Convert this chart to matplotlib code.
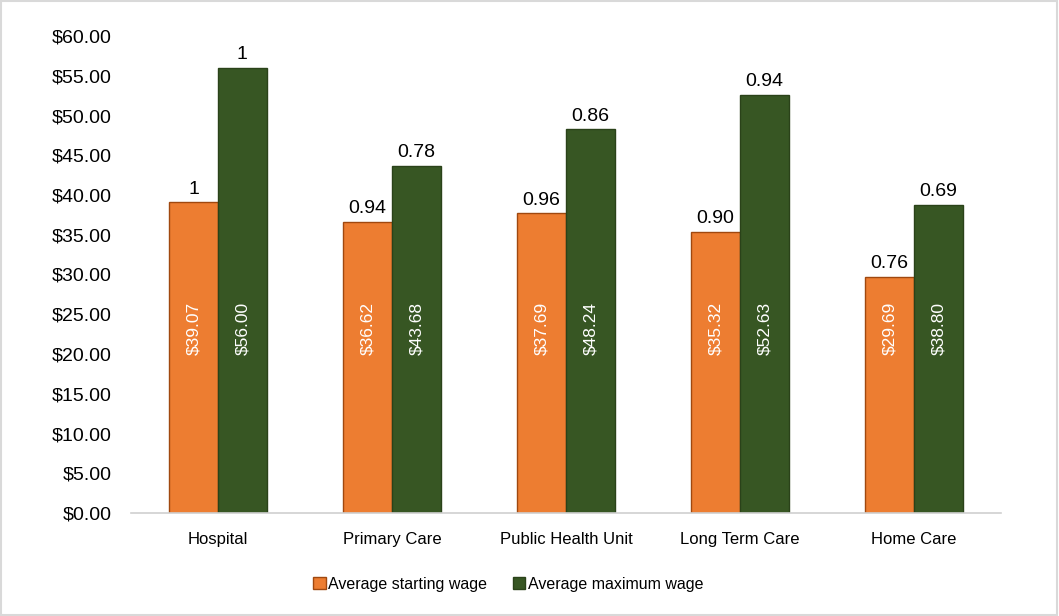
import matplotlib.pyplot as plt
import numpy as np

plt.rcParams["font.family"] = ["Liberation Sans", "DejaVu Sans"]

categories = ["Hospital", "Primary Care", "Public Health Unit", "Long Term Care", "Home Care"]
starting_wage = [39.07, 36.62, 37.69, 35.32, 29.69]
maximum_wage = [56.00, 43.68, 48.24, 52.63, 38.80]
starting_ratio = ["1", "0.94", "0.96", "0.90", "0.76"]
maximum_ratio = ["1", "0.78", "0.86", "0.94", "0.69"]
y_ticks = np.arange(0, 61, 5)

ORANGE = "#ED7D31"
GREEN = "#375623"
INNER_LABEL_Y = 23.2  # wage labels sit at a common height inside the bars

fig = plt.figure(figsize=(10.59, 6.16), dpi=100)
ax = fig.add_axes([131 / 1059, 1 - 513 / 616, (1001 - 131) / 1059, (513 - 36) / 616])

x = np.arange(len(categories))
w = 0.28
b1 = ax.bar(x - w / 2, starting_wage, w, color=ORANGE, edgecolor="#A0480F", linewidth=1)
b2 = ax.bar(x + w / 2, maximum_wage, w, color=GREEN, edgecolor="#2A4219", linewidth=1)

for bars, vals, ratios in ((b1, starting_wage, starting_ratio), (b2, maximum_wage, maximum_ratio)):
    for bar, v, r in zip(bars, vals, ratios):
        cx = bar.get_x() + bar.get_width() / 2
        ax.text(cx, INNER_LABEL_Y, f"${v:.2f}", rotation=90, ha="center", va="center",
                color="white", fontsize=12.5)
        ax.text(cx, v + 0.6, r, ha="center", va="bottom", fontsize=14, color="black")

ax.set_xlim(-0.5, len(categories) - 0.5)
ax.set_ylim(0, 60)
ax.set_yticks(y_ticks)
ax.set_yticklabels([f"${t:.2f}" for t in y_ticks], fontsize=14)
ax.set_xticks(x)
ax.set_xticklabels(categories, fontsize=12)
ax.tick_params(axis="both", length=0)
ax.tick_params(axis="y", pad=14)
ax.tick_params(axis="x", pad=14)
for side in ("top", "right", "left"):
    ax.spines[side].set_visible(False)
ax.spines["bottom"].set_color("#D0D0D0")
ax.spines["bottom"].set_linewidth(1.2)

fig.legend([b1, b2], ["Average starting wage", "Average maximum wage"],
           loc="center", bbox_to_anchor=(508 / 1059, 1 - 584 / 616), ncol=2,
           frameon=False, fontsize=11.5, handlelength=0.8, handleheight=0.8,
           handletextpad=0.15, columnspacing=1.6)

fig.patches.append(plt.Rectangle((0.001, 0.001), 0.997, 0.997, transform=fig.transFigure,
                                 fill=False, edgecolor="#D9D9D9", linewidth=1.5))

fig.savefig("out.png", dpi=100)
